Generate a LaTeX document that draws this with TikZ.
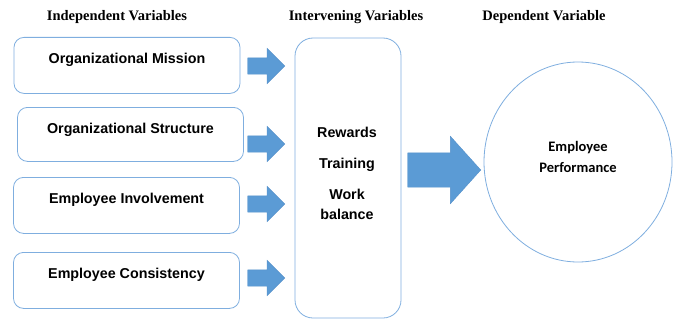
\documentclass[tikz,border=0pt]{standalone}
\usepackage{fontspec}
\setmainfont{Liberation Sans}
\newfontfamily\headfont{Liberation Serif}
\newfontfamily\circfont{Carlito}
\usetikzlibrary{shapes.arrows,shapes.geometric}

\definecolor{lineblue}{HTML}{7FAEDF}
\definecolor{fillblue}{HTML}{5B9BD5}
\definecolor{edgeblue}{HTML}{5590CA}

\begin{document}
\begin{tikzpicture}[x=1pt,y=-1pt,
  head/.style={font=\headfont\bfseries\fontsize{14.5}{16}\selectfont},
  var/.style={draw=lineblue,line width=0.8pt,rounded corners=10pt,anchor=north,
    minimum width=226pt,inner ysep=15pt,text height=11pt,text depth=15pt,
    font=\bfseries\fontsize{14.3}{16}\selectfont},
  blk/.style={single arrow,fill=fillblue,draw=edgeblue,line width=0.4pt,
    inner sep=0pt,single arrow tip angle=90,anchor=tip},
  small/.style={blk,minimum height=37pt,inner ysep=8pt,single arrow head extend=9.5pt}]
  \useasboundingbox (0,0) rectangle (676,321);

  % column headings
  \node[head] (ih) at (117,17) {Independent Variables};
  \node[head] (mh) at (356,17) {Intervening Variables};
  \node[head] (dh) at (544,17) {Dependent Variable};

  % independent variables
  \node[var] (mission) at (127,37) {Organizational Mission};
  \node[var,minimum height=54pt,text depth=12pt] (structure) at (130.5,107) {Organizational Structure};
  \node[var] (involve) at (126.5,177) {Employee Involvement};
  \node[var] (consist) at (126.5,252) {Employee Consistency};

  \node[small] (a1) at (285,66) {};
  \node[small] (a2) at (285,144) {};
  \node[small] (a3) at (285,204) {};
  \node[small] (a4) at (285,278) {};

  % intervening variables
  \node[draw=lineblue,line width=0.8pt,rounded corners=18pt,minimum width=106pt,
    minimum height=280pt] (inter) at (348,178) {};
  \node[font=\bfseries\fontsize{14.3}{20}\selectfont,align=center] (iv) at (347,173)
    {Rewards\\[11pt]Training\\[11pt]Work\\balance};

  \node[blk,minimum height=73pt,inner ysep=17pt,single arrow head extend=16.5pt,
    single arrow tip angle=96] (big) at (481,170) {};

  % dependent variable
  \node[ellipse,draw=lineblue,line width=0.8pt,minimum width=188pt,
    minimum height=200pt] (perf) at (578,162) {};
  \node[font=\circfont\bfseries\fontsize{14.5}{21}\selectfont,align=center] (pt) at (578,156.5)
    {Employee\\Performance};
\end{tikzpicture}
\end{document}
